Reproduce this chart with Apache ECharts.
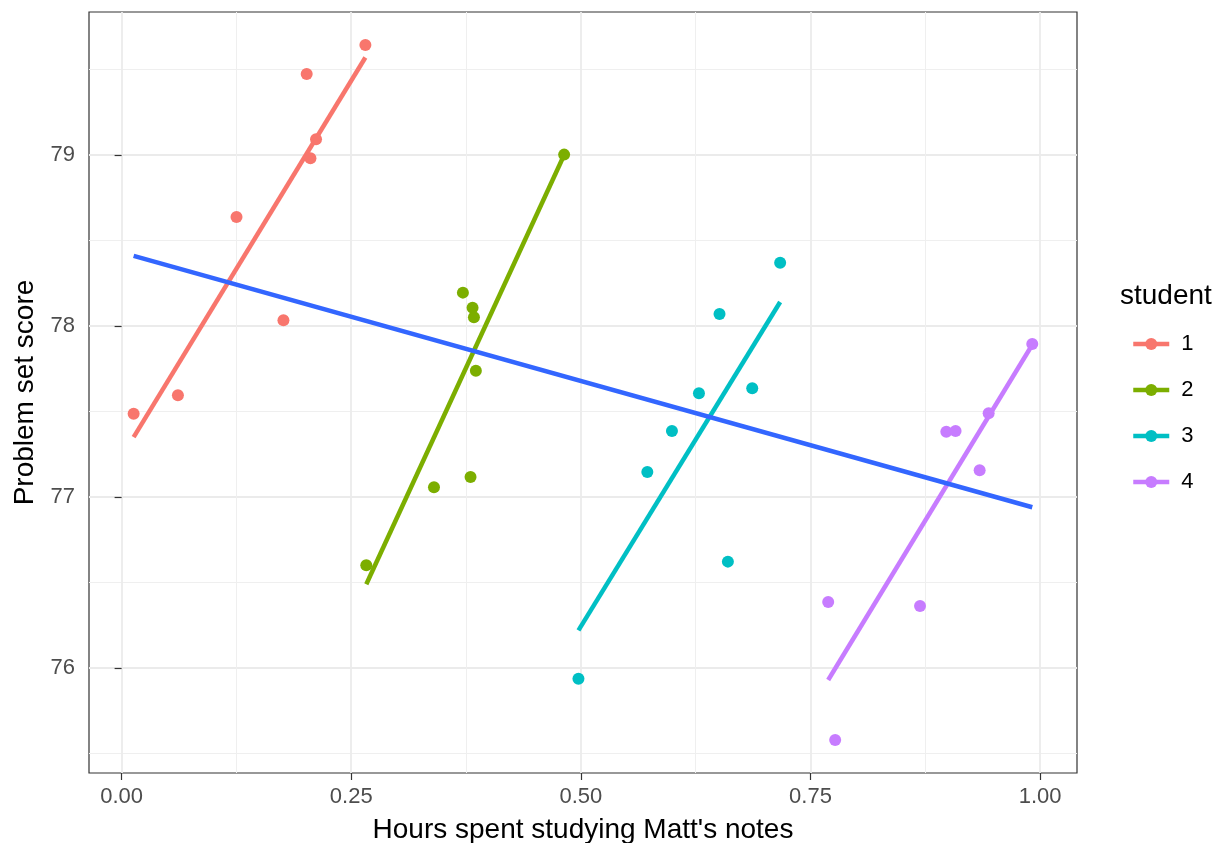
<!DOCTYPE html>
<html lang="en">
<head>
<meta charset="UTF-8">
<title>Problem set score vs hours studying</title>
<script src="https://cdn.jsdelivr.net/npm/echarts@6.0.0/dist/echarts.min.js"></script>
<style>
    html, body { margin: 0; padding: 0; background: #fff; }
    #main { width: 1222px; height: 843px; }
</style>
</head>
<body>
<div id="main"></div>
<script>
    // observed points, one pair of arrays per student
    const hours1 = [0.0131, 0.0613, 0.1251, 0.1762, 0.2015, 0.2056, 0.2117, 0.2654];
    const score1 = [77.487, 77.595, 78.637, 78.033, 79.474, 78.981, 79.092, 79.643];
    const hours2 = [0.2664, 0.3401, 0.3716, 0.3799, 0.3821, 0.3836, 0.3857, 0.4818];
    const score2 = [76.601, 77.057, 78.195, 77.117, 78.107, 78.051, 77.738, 79.002];
    const hours3 = [0.4974, 0.5724, 0.5992, 0.6286, 0.6510, 0.6601, 0.6866, 0.7170];
    const score3 = [75.937, 77.146, 77.386, 77.606, 78.070, 76.622, 77.636, 78.370];
    const hours4 = [0.7693, 0.7769, 0.8693, 0.8979, 0.9080, 0.9342, 0.9440, 0.9915];
    const score4 = [76.386, 75.579, 76.363, 77.382, 77.386, 77.156, 77.489, 77.895];

    // fitted line end points (per student + pooled)
    const fitHours1 = [0.0131, 0.2654], fitScore1 = [77.35, 79.57];
    const fitHours2 = [0.2664, 0.4818], fitScore2 = [76.49, 79.00];
    const fitHours3 = [0.4974, 0.7170], fitScore3 = [76.22, 78.14];
    const fitHours4 = [0.7693, 0.9915], fitScore4 = [75.93, 77.89];
    const fitHoursAll = [0.0131, 0.9915], fitScoreAll = [78.41, 76.94];

    const students = ['1', '2', '3', '4'];
    const colors = ['#F8766D', '#7CAE00', '#00BFC4', '#C77CFF'];

    // tick positions
    const xTicks = [0, 0.25, 0.5, 0.75, 1];
    const xMinor = [0.125, 0.375, 0.625, 0.875];
    const yTicks = [76, 77, 78, 79];
    const yMinor = [75.5, 76.5, 77.5, 78.5, 79.5];

    const pts = (xs, ys) => xs.map((x, i) => [x, ys[i]]);

    const pointSets = [pts(hours1, score1), pts(hours2, score2), pts(hours3, score3), pts(hours4, score4)];
    const fitSets = [pts(fitHours1, fitScore1), pts(fitHours2, fitScore2), pts(fitHours3, fitScore3), pts(fitHours4, fitScore4)];

    const chart = echarts.init(document.getElementById('main'));

    const xMin = -0.0355, xMax = 1.0402;
    const yMin = 75.386, yMax = 79.836;
    const font = 'Liberation Sans, Arial, Helvetica, sans-serif';

    const series = [];
    // per-student fit lines (these carry the legend)
    students.forEach((s, i) => {
        series.push({
            name: s,
            type: 'line',
            data: fitSets[i],
            symbol: 'circle',
            showSymbol: false,
            color: colors[i],
            lineStyle: { width: 4.5, color: colors[i] },
            itemStyle: { color: colors[i] },
            silent: true,
            z: 3
        });
    });
    // pooled fit
    series.push({
        name: 'all',
        type: 'line',
        data: pts(fitHoursAll, fitScoreAll),
        showSymbol: false,
        symbol: 'none',
        lineStyle: { width: 4.5, color: '#3366FF' },
        silent: true,
        z: 4
    });
    // points
    students.forEach((s, i) => {
        series.push({
            name: 'pts' + s,
            type: 'scatter',
            data: pointSets[i],
            symbolSize: 12,
            itemStyle: { color: colors[i], opacity: 1 },
            z: 5
        });
    });

    const option = {
        backgroundColor: '#fff',
        animation: false,
        title: {
            text: 'student',
            left: 1120,
            top: 282,
            padding: 0,
            textStyle: { fontFamily: font, fontSize: 28, fontWeight: 'normal', color: '#000' }
        },
        legend: {
            data: students,
            orient: 'vertical',
            left: 1126,
            top: 328,
            itemWidth: 36,
            itemHeight: 15,
            itemGap: 24,
            selectedMode: false,
            lineStyle: { width: 4.5 },
            textStyle: { fontFamily: font, fontSize: 22, color: '#000', lineHeight: 22, padding: [0, 0, 0, 7] }
        },
        grid: {
            left: 89,
            top: 12,
            right: 145,
            bottom: 70,
            show: true,
            backgroundColor: '#fff',
            borderColor: '#333333',
            borderWidth: 1.2,
            containLabel: false,
            outerBoundsMode: 'none'
        },
        xAxis: [
            {
                type: 'value',
                min: xMin,
                max: xMax,
                position: 'bottom',
                name: "Hours spent studying Matt's notes",
                nameLocation: 'middle',
                nameGap: 43,
                nameTextStyle: { fontFamily: font, fontSize: 28, color: '#000' },
                axisLine: { show: false },
                axisTick: { show: true, customValues: xTicks, length: 7, lineStyle: { color: '#333333', width: 1.2 } },
                axisLabel: {
                    customValues: xTicks,
                    margin: 13,
                    fontFamily: font,
                    fontSize: 22,
                    color: '#4D4D4D',
                    formatter: v => v.toFixed(2)
                },
                splitLine: { show: true, lineStyle: { color: '#EBEBEB', width: 1.8 } }
            },
            {
                type: 'value',
                min: xMin,
                max: xMax,
                position: 'bottom',
                axisLine: { show: false },
                axisTick: { show: false, customValues: xMinor },
                axisLabel: { show: false, customValues: xMinor },
                splitLine: { show: true, lineStyle: { color: '#EFEFEF', width: 1 } }
            }
        ],
        yAxis: [
            {
                type: 'value',
                min: yMin,
                max: yMax,
                position: 'left',
                name: 'Problem set score',
                nameLocation: 'middle',
                nameGap: 50,
                nameTextStyle: { fontFamily: font, fontSize: 28, color: '#000' },
                axisLine: { show: false },
                axisTick: { show: true, customValues: yTicks, length: 7, lineStyle: { color: '#333333', width: 1.2 } },
                axisLabel: {
                    customValues: yTicks,
                    margin: 14,
                    fontFamily: font,
                    fontSize: 22,
                    color: '#4D4D4D'
                },
                splitLine: { show: true, lineStyle: { color: '#EBEBEB', width: 1.8 } }
            },
            {
                type: 'value',
                min: yMin,
                max: yMax,
                position: 'left',
                axisLine: { show: false },
                axisTick: { show: false, customValues: yMinor },
                axisLabel: { show: false, customValues: yMinor },
                splitLine: { show: true, lineStyle: { color: '#EFEFEF', width: 1 } }
            }
        ],
        series: series
    };

    chart.setOption(option);
</script>
</body>
</html>
